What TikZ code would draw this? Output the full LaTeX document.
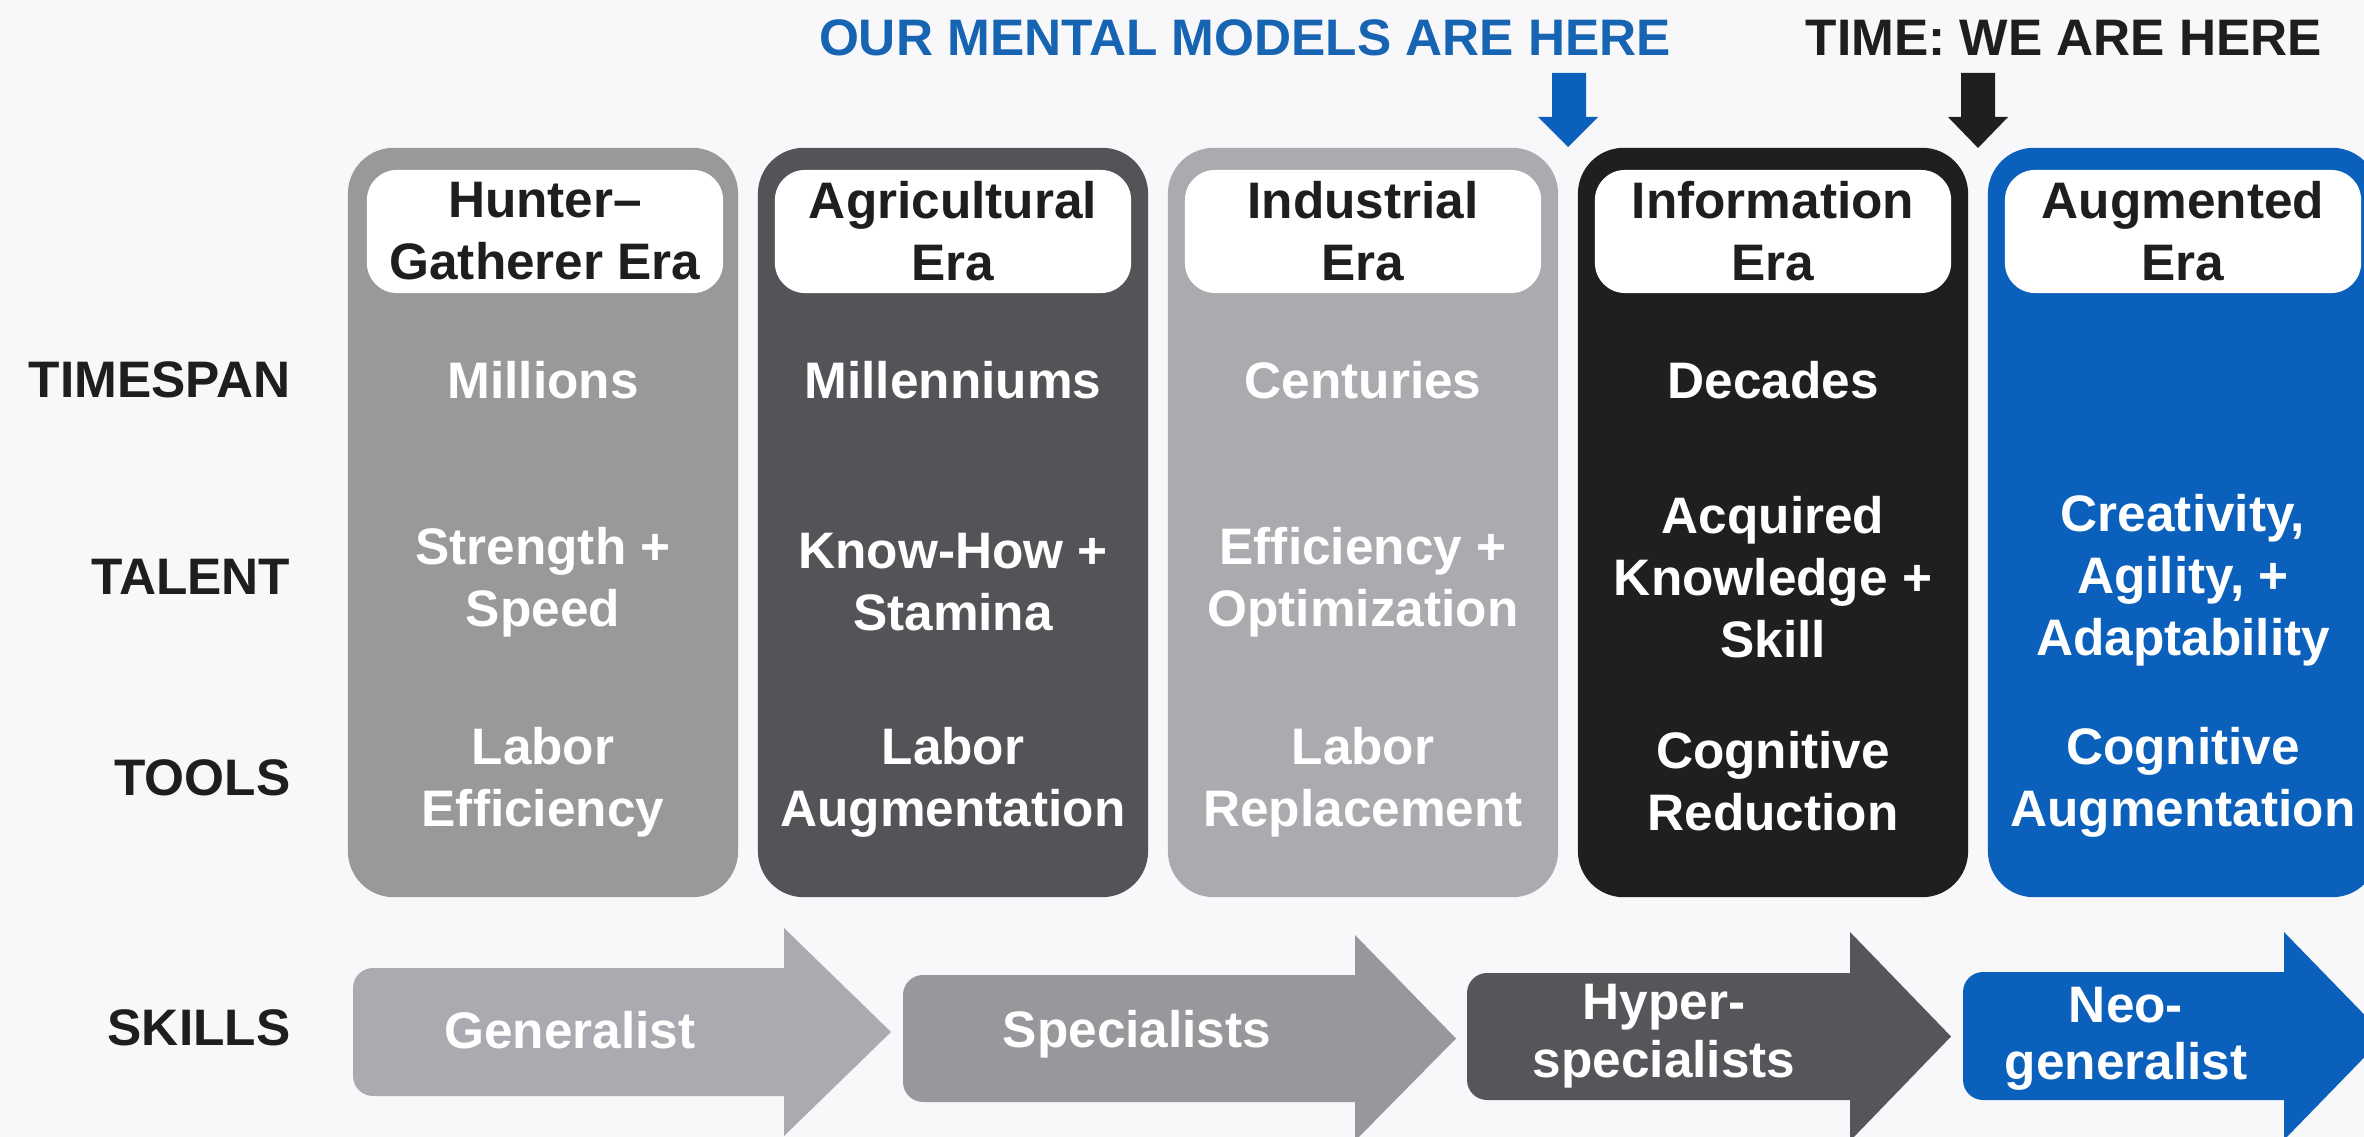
\documentclass[tikz,border=0pt]{standalone}
\usepackage{fontspec}
\setmainfont{Liberation Sans}
\definecolor{bg}{RGB}{248,248,250}
\definecolor{cA}{RGB}{151,153,155}
\definecolor{cB}{RGB}{84,84,88}
\definecolor{cC}{RGB}{172,170,175}
\definecolor{cD}{RGB}{32,30,32}
\definecolor{cE}{RGB}{10,96,186}
\definecolor{tblue}{RGB}{22,100,178}
\definecolor{tdark}{RGB}{30,30,30}
\definecolor{aA}{RGB}{172,170,176}
\definecolor{aB}{RGB}{150,152,155}
\definecolor{aC}{RGB}{85,85,90}
\newcommand\skillarrow[8]{%
  \fill[#1, rounded corners=0.2cm] (#2,#5) rectangle (#3+25,#6);
  \fill[#1] (#3,#7) -- (#4,{(#5+#6)/2}) -- (#3,#8) -- cycle;}
\begin{document}
\begin{tikzpicture}[x=0.01cm,y=-0.01cm,
  txt/.style={font=\fontsize{14.6}{17.6}\selectfont\bfseries, align=center, inner sep=0pt},
  wtxt/.style={txt, text=white},
  atxt/.style={font=\fontsize{14.6}{16.3}\selectfont\bfseries, align=center, inner sep=0pt, text=white},
  lbl/.style={txt, text=tdark, anchor=east},
  colbox/.style={rounded corners=0.46cm, minimum width=3.9cm, minimum height=7.49cm, inner sep=0pt},
  headbox/.style={fill=white, rounded corners=0.3cm, minimum width=3.56cm, minimum height=1.23cm, inner sep=0pt, txt, text=tdark},
]
\useasboundingbox (0,0) rectangle (2364,1137);
\fill[bg] (0,0) rectangle (2364,1137);
\clip (0,0) rectangle (2364,1137);

% titles
\node[txt, text=tblue] (tMental) at (1245,38) {OUR MENTAL MODELS ARE HERE};
\node[txt, text=tdark] (tTime) at (2064,38) {TIME: WE ARE HERE};
\fill[cE] (1552,73) -- (1586,73) -- (1586,117) -- (1598,117) -- (1568,147) -- (1538,117) -- (1552,117) -- cycle;
\fill[cD] (1961,73) -- (1995,73) -- (1995,117) -- (2008,117) -- (1978,148) -- (1948,117) -- (1961,117) -- cycle;

% columns
\node[colbox, fill=cA] (colA) at (543,522.5) {};
\node[colbox, fill=cB] (colB) at (953,522.5) {};
\node[colbox, fill=cC] (colC) at (1363,522.5) {};
\node[colbox, fill=cD] (colD) at (1773,522.5) {};
\node[colbox, fill=cE] (colE) at (2183,522.5) {};

% headers
\node[headbox] (hA) at (545,231.5) {Hunter–\\Gatherer Era};
\node[headbox] (hB) at (953,231.5) {Agricultural\\Era};
\node[headbox] (hC) at (1363,231.5) {Industrial\\Era};
\node[headbox] (hD) at (1773,231.5) {Information\\Era};
\node[headbox] (hE) at (2183,231.5) {Augmented\\Era};

% row labels
\node[lbl] (lTime) at (291,380) {TIMESPAN};
\node[lbl] (lTalent) at (291,577) {TALENT};
\node[lbl] (lTools) at (291,778) {TOOLS};
\node[lbl] (lSkills) at (291,1028) {SKILLS};

% timespan
\node[wtxt] (spA) at (543,380) {Millions};
\node[wtxt] (spB) at (953,380) {Millenniums};
\node[wtxt] (spC) at (1363,380) {Centuries};
\node[wtxt] (spD) at (1773,380) {Decades};

% talent
\node[wtxt] (taA) at (543,582) {Strength +\\Speed};
\node[wtxt] (taB) at (953,582) {Know-How +\\Stamina};
\node[wtxt] (taC) at (1363,582) {Efficiency +\\Optimization};
\node[wtxt] (taD) at (1773,577) {Acquired\\Knowledge +\\Skill};
\node[wtxt] (taE) at (2183,580) {Creativity,\\Agility, +\\Adaptability};

% tools
\node[wtxt] (toA) at (543,782) {Labor\\Efficiency};
\node[wtxt] (toB) at (953,782) {Labor\\Augmentation};
\node[wtxt] (toC) at (1363,782) {Labor\\Replacement};
\node[wtxt] (toD) at (1773,781) {Cognitive\\Reduction};
\node[wtxt] (toE) at (2183,782) {Cognitive\\Augmentation};

% skills arrows
\skillarrow{aA}{353}{784}{891}{968}{1096}{928}{1136}
\skillarrow{aB}{903}{1355}{1456}{975}{1102}{935}{1141}
\skillarrow{aC}{1467}{1850}{1951}{973}{1100}{932}{1141}
\skillarrow{cE}{1963}{2284}{2385}{972}{1100}{932}{1140}
\node[atxt] (sA) at (570,1030) {Generalist};
\node[atxt] (sB) at (1137,1034) {Specialists};
\node[atxt] (sC) at (1664,1036) {Hyper-\\specialists};
\node[atxt] (sD) at (2126,1039) {Neo-\\generalist};
\end{tikzpicture}
\end{document}
